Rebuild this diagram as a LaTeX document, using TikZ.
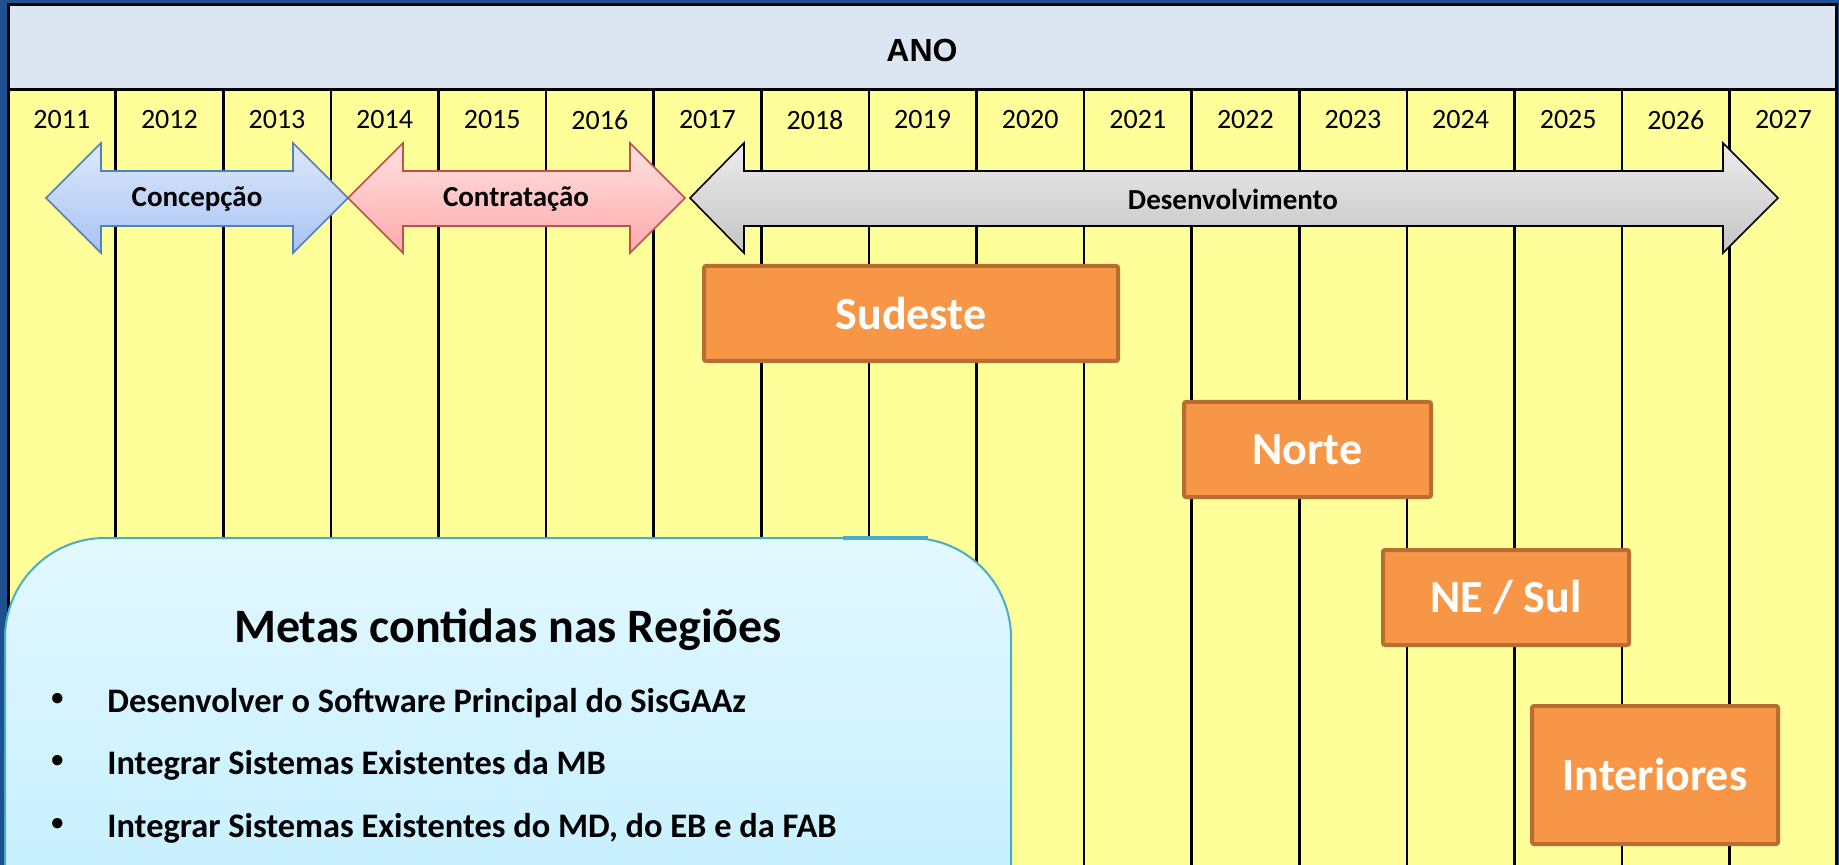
\documentclass[tikz,border=0pt]{standalone}
\usepackage{fontspec}
\setmainfont{Carlito}
\newfontfamily\arialfont{Liberation Sans}
\definecolor{fundo}{HTML}{1E4F8E}
\definecolor{amarelo}{HTML}{FFFF99}
\definecolor{cabecalho}{HTML}{DCE6F2}
\definecolor{laranja}{HTML}{F79646}
\definecolor{laranjaborda}{HTML}{B86D33}
\definecolor{azulborda}{HTML}{4F81BD}
\definecolor{azulclaro}{HTML}{DDE9FD}
\definecolor{azulescuro}{HTML}{A7C3F2}
\definecolor{rosaborda}{HTML}{C0504D}
\definecolor{rosaclaro}{HTML}{FFE2E2}
\definecolor{rosaescuro}{HTML}{FFA9A9}
\definecolor{cinzaclaro}{HTML}{ECECEC}
\definecolor{cinzaescuro}{HTML}{C4C4C4}
\definecolor{cianoborda}{HTML}{4BACC6}
\definecolor{cianoclaro}{HTML}{E2F8FF}
\definecolor{cianoescuro}{HTML}{C6EFFF}
\begin{document}
\begin{tikzpicture}[x=0.5pt,y=-0.5pt,
  anolabel/.style={font=\fontsize{14}{16}\selectfont},
  fase/.style={font=\bfseries\fontsize{14.5}{17}\selectfont},
  regiao/.style={draw=laranjaborda,fill=laranja,line width=2pt,rounded corners=1pt,
    text=white,font=\bfseries\fontsize{23}{27}\selectfont,inner sep=0pt},
  meta/.style={anchor=base west,font=\bfseries\fontsize{17.2}{20}\selectfont,inner sep=0pt},
  marcador/.style={font=\arialfont\bfseries\fontsize{18}{20}\selectfont,inner sep=0pt}]
\useasboundingbox (0,0) rectangle (1839,865);
\clip (0,0) rectangle (1839,865);
\fill[fundo] (0,0) rectangle (1839,865);
% tabela dos anos
\fill[amarelo] (8,90) rectangle (1836,880);
\draw[line width=1.5pt,fill=cabecalho] (8,5) rectangle (1836,90);
\draw[line width=1.5pt] (8,90) -- (8,880);
\draw[line width=1.5pt] (1836,90) -- (1836,880);
\node[font=\arialfont\bfseries\fontsize{16}{19}\selectfont] (ano) at (922,50) {ANO};
\foreach \a [count=\k from 0] in {2011,...,2027}{
  \node[anolabel] (a\a) at ({61.8+107.6*\k},120) {\a};
  \ifnum\k>0 \draw[line width=1.3pt] ({8+107.6*\k},90) -- ({8+107.6*\k},880); \fi
}
% fases
\draw[draw=azulborda,top color=azulclaro,bottom color=azulescuro,line width=0.8pt]
  (46,198) -- (101,143) -- (101,171) -- (293,171) -- (293,143) -- (348,198)
  -- (293,253) -- (293,226) -- (101,226) -- (101,253) -- cycle;
\draw[draw=rosaborda,top color=rosaclaro,bottom color=rosaescuro,line width=0.8pt]
  (348,198) -- (403,143) -- (403,171) -- (630,171) -- (630,143) -- (685,198)
  -- (630,253) -- (630,226) -- (403,226) -- (403,253) -- cycle;
\draw[draw=black,top color=cinzaclaro,bottom color=cinzaescuro,line width=0.8pt]
  (690,198) -- (744,143) -- (744,171) -- (1723,171) -- (1723,143) -- (1778,198)
  -- (1723,253) -- (1723,226) -- (744,226) -- (744,253) -- cycle;
\node[fase] (concepcao) at (197,199) {Concepção};
\node[fase] (contratacao) at (516,199) {Contratação};
\node[fase] (desenvolvimento) at (1233,199) {Desenvolvimento};
% regioes
\node[regiao,minimum width=207pt,minimum height=47.5pt] (sudeste) at (911,313.5) {Sudeste};
\node[regiao,minimum width=123.5pt,minimum height=47.5pt] (norte) at (1307.5,449.5) {Norte};
\node[regiao,minimum width=123pt,minimum height=47.5pt] (nesul) at (1506,597.5) {NE / Sul};
\node[regiao,minimum width=123pt,minimum height=69pt] (interiores) at (1655,775) {Interiores};
% quadro das metas
\draw[draw=cianoborda,line width=1pt,top color=cianoclaro,bottom color=cianoescuro,rounded corners=50pt]
  (5,900) -- (5,538) -- (1011,538) -- (1011,900);
\draw[cianoborda,line width=2pt] (843,538) -- (928,538);
\node[font=\bfseries\fontsize{24}{29}\selectfont] (titulo) at (508,630) {Metas contidas nas Regiões};
\node[marcador] (b1) at (58,702) {•};
\node[meta] (m1) at (107,712) {Desenvolver o Software Principal do SisGAAz};
\node[marcador] (b2) at (58,764) {•};
\node[meta] (m2) at (107,774) {Integrar Sistemas Existentes da MB};
\node[marcador] (b3) at (58,827) {•};
\node[meta] (m3) at (107,837) {Integrar Sistemas Existentes do MD, do EB e da FAB};
\end{tikzpicture}
\end{document}
